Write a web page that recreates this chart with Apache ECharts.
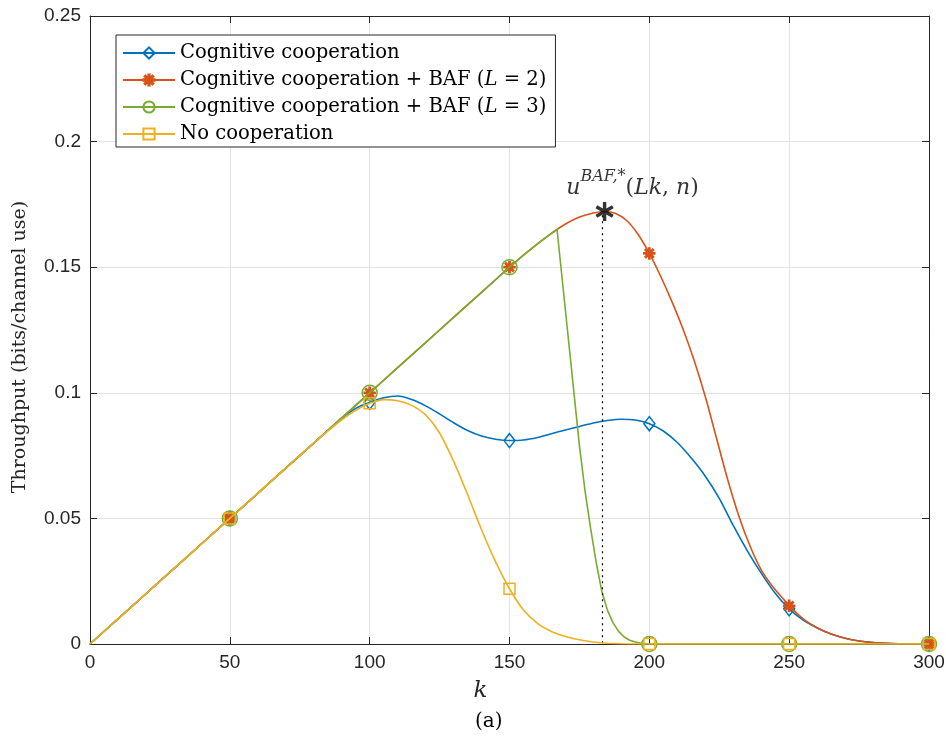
<!DOCTYPE html>
<html><head><meta charset="utf-8">
<script src="https://cdn.jsdelivr.net/npm/echarts@6/dist/echarts.min.js"></script>
<style>html,body{margin:0;padding:0;background:#fff}#c{width:946px;height:738px}</style>
</head><body><div id="c"></div>
<script>
// ---------- data ----------
const seriesNames = [
  'Cognitive cooperation',
  'Cognitive cooperation + BAF (L = 2)',
  'Cognitive cooperation + BAF (L = 3)',
  'No cooperation'
];
const xTicks = [0, 50, 100, 150, 200, 250, 300];
const yTicks = [0, 0.05, 0.1, 0.15, 0.2, 0.25];
const markerK = [50, 100, 150, 200, 250, 300];

const blueK = [0,10,20,30,40,50,60,70,80,90,95,100,105,110,115,120,125,130,135,140,145,150,155,160,165,170,175,180,185,190,195,200,205,210,215,220,225,230,235,240,245,250,255,260,265,270,275,280,285,290,300];
const blueY = [0,0.01,0.02,0.03,0.04,0.05,0.06,0.07,0.08,0.0898,0.0938,0.0962,0.0980,0.0987,0.0973,0.0948,0.0916,0.0881,0.0850,0.0828,0.0815,0.0810,0.0812,0.0822,0.0837,0.0852,0.0866,0.0880,0.0890,0.0895,0.0892,0.0877,0.0848,0.0802,0.0740,0.0668,0.0580,0.0472,0.0372,0.0282,0.0202,0.0140,0.0095,0.0064,0.0040,0.0023,0.0012,0.0006,0.0003,0.0001,0];

const orangeK = [0,10,20,30,40,50,60,70,80,90,100,110,120,130,140,150,155,160,165,170,175,180,184,188,192,196,200,204,208,212,216,220,224,228,232,236,240,244,248,250,255,260,265,270,275,280,285,290,300];
const orangeY = [0,0.01,0.02,0.03,0.04,0.05,0.06,0.07,0.08,0.09,0.10,0.11,0.12,0.13,0.14,0.15,0.1548,0.1593,0.1635,0.1672,0.1700,0.1716,0.1722,0.1714,0.1685,0.1630,0.1555,0.1465,0.1365,0.1255,0.1130,0.0985,0.0820,0.0655,0.0510,0.0390,0.0295,0.0230,0.0178,0.0152,0.0100,0.0065,0.0040,0.0023,0.0012,0.0006,0.0003,0.0001,0];

const greenK = [0,10,20,30,40,50,60,70,80,90,100,110,120,130,140,150,155,160,165,167,169,171,173,175,177,179,181,183,185,187,189,191,193,195,197,200,250,300];
const greenY = [0,0.01,0.02,0.03,0.04,0.05,0.06,0.07,0.08,0.09,0.10,0.11,0.12,0.13,0.14,0.15,0.1548,0.1593,0.1635,0.1650,0.1435,0.1220,0.1005,0.0790,0.0610,0.0460,0.0325,0.0210,0.0135,0.0085,0.0050,0.0028,0.0015,0.0008,0.0003,0,0,0];

const yellowK = [0,10,20,30,40,50,60,70,80,90,95,100,105,110,115,120,125,130,135,140,145,150,155,160,165,170,175,180,185,190,200,250,300];
const yellowY = [0,0.01,0.02,0.03,0.04,0.05,0.06,0.07,0.08,0.0892,0.0930,0.0958,0.0973,0.0968,0.0950,0.0912,0.0840,0.0728,0.0595,0.0455,0.0328,0.0220,0.0135,0.0082,0.0050,0.0030,0.0017,0.0008,0.0003,0.0001,0,0,0];

const peakK = 184, peakY = 0.1722;   // optimum marker
const peakLineK = 183;               // dotted guide

// ---------- styling ----------
const colors = ['#0072BD', '#D95319', '#77AC30', '#EDB120'];
const asterisk8 = 'path://M-10,-1.2 L10,-1.2 L10,1.2 L-10,1.2 Z M-1.2,-10 L1.2,-10 L1.2,10 L-1.2,10 Z M-7.92,-6.22 L-6.22,-7.92 L7.92,6.22 L6.22,7.92 Z M-6.22,7.92 L-7.92,6.22 L6.22,-7.92 L7.92,-6.22 Z';
const asterisk6 = 'path://M-1.8,-10 L1.8,-10 L1.8,10 L-1.8,10 Z M-9.56,-3.44 L-7.76,-6.56 L9.56,3.44 L7.76,6.56 Z M-7.76,6.56 L-9.56,3.44 L7.76,-6.56 L9.56,-3.44 Z';
const symbols = [
  {symbol: 'diamond', size: [11, 14], fill: 'rgba(0,0,0,0)'},
  {symbol: asterisk8, size: 11, fill: colors[1]},
  {symbol: 'circle', size: 15, fill: 'rgba(0,0,0,0)'},
  {symbol: 'rect', size: 11, fill: 'rgba(0,0,0,0)'}
];
const smoothness = [0.3, 0.3, false, 0.3];
const serif = '"DejaVu Serif", "Liberation Serif", serif';
const sans = '"Liberation Sans", Arial, sans-serif';

function build(ks, ys) {
  return ks.map((k, i) => markerK.includes(k) ? [k, ys[i]] : {value: [k, ys[i]], symbol: 'none'});
}
const allK = [blueK, orangeK, greenK, yellowK];
const allY = [blueY, orangeY, greenY, yellowY];

const lineSeries = seriesNames.map((name, i) => ({
  name: name,
  type: 'line',
  data: build(allK[i], allY[i]),
  symbol: symbols[i].symbol,
  symbolSize: symbols[i].size,
  symbolKeepAspect: true,
  showAllSymbol: true,
  smooth: smoothness[i],
  z: 2 + i,
  lineStyle: {color: colors[i], width: 1.6},
  itemStyle: {color: symbols[i].fill, borderColor: colors[i], borderWidth: 1.5},
  emphasis: {disabled: true},
  animation: false
}));

// dotted guide line on the L=2 series
lineSeries[1].markLine = {
  silent: true, symbol: ['none', 'none'], animation: false,
  label: {show: false},
  lineStyle: {type: [2, 4], color: '#000', width: 1.2},
  data: [[{coord: [peakLineK, peakY - 0.0015]}, {coord: [peakLineK, 0]}]]
};

const option = {
  backgroundColor: '#fff',
  animation: false,
  color: colors,
  grid: {left: 90, right: 17, top: 16, bottom: 94, outerBoundsMode: 'none', containLabel: false},
  legend: {
    data: seriesNames,
    orient: 'vertical',
    left: 116, top: 35,
    padding: [8, 9, 3, 6],
    itemWidth: 52, itemHeight: 14, itemGap: 7,
    backgroundColor: '#fff',
    borderColor: '#262626', borderWidth: 1,
    textStyle: {fontFamily: serif, fontSize: 19.6, lineHeight: 20, color: '#000',
      rich: {i: {fontFamily: serif, fontSize: 19.6, lineHeight: 20, fontStyle: 'italic', color: '#000'}}},
    formatter: function (n) {
      return n.replace(/\(L = (\d)\)/, '({i|L} = $1)');
    },
    selectedMode: false
  },
  xAxis: [{
    type: 'value', min: 0, max: 300, interval: 50,
    name: 'k', nameLocation: 'middle', nameGap: 36,
    nameTextStyle: {fontFamily: serif, fontStyle: 'italic', fontSize: 23, color: '#262626', padding: [0, 58, 0, 0]},
    axisLine: {show: true, lineStyle: {color: '#262626', width: 1}},
    axisTick: {show: true, inside: true, length: 7, lineStyle: {color: '#262626'}},
    axisLabel: {fontFamily: sans, fontSize: 19, color: '#262626', margin: 9,
      formatter: v => xTicks.includes(v) ? String(v) : ''},
    splitLine: {show: true, lineStyle: {color: '#e3e3e3', width: 1}}
  }, {
    type: 'value', min: 0, max: 300, interval: 50, position: 'top',
    axisLine: {show: true, onZero: false, lineStyle: {color: '#262626', width: 1}},
    axisTick: {show: true, inside: true, length: 7, lineStyle: {color: '#262626'}},
    axisLabel: {show: false}, splitLine: {show: false}
  }],
  yAxis: [{
    type: 'value', min: 0, max: 0.25, interval: 0.05,
    name: 'Throughput (bits/channel use)', nameLocation: 'middle', nameGap: 60,
    nameTextStyle: {fontFamily: serif, fontSize: 19, color: '#262626', padding: [0, 34, 0, 0]},
    axisLine: {show: true, lineStyle: {color: '#262626', width: 1}},
    axisTick: {show: true, inside: true, length: 7, lineStyle: {color: '#262626'}},
    axisLabel: {fontFamily: sans, fontSize: 19, color: '#262626', margin: 9,
      formatter: v => { const t = yTicks.find(y => Math.abs(y - v) < 1e-9); return t === undefined ? '' : String(t); }},
    splitLine: {show: true, lineStyle: {color: '#e3e3e3', width: 1}}
  }, {
    type: 'value', min: 0, max: 0.25, interval: 0.05, position: 'right',
    axisLine: {show: true, onZero: false, lineStyle: {color: '#262626', width: 1}},
    axisTick: {show: true, inside: true, length: 7, lineStyle: {color: '#262626'}},
    axisLabel: {show: false}, splitLine: {show: false}
  }],
  title: {
    text: '(a)', left: 470, top: 707,
    textStyle: {fontFamily: serif, fontSize: 20, fontWeight: 'normal', color: '#000'}
  },
  series: lineSeries.concat([{
    name: 'optimum',
    type: 'scatter',
    data: [[peakK, peakY]],
    symbol: asterisk6, symbolSize: 19, symbolKeepAspect: true,
    itemStyle: {color: '#000'},
    z: 20,
    silent: true,
    label: {
      show: true, position: 'top', offset: [28, 2],
      formatter: '{i|u}{s|BAF,*}{n|(}{i|Lk}{n|, }{i|n}{n|)}',
      rich: {
        i: {fontFamily: serif, fontStyle: 'italic', fontSize: 22, color: '#000', lineHeight: 30, verticalAlign: 'bottom'},
        n: {fontFamily: serif, fontSize: 22, color: '#000', lineHeight: 30, verticalAlign: 'bottom'},
        s: {fontFamily: serif, fontStyle: 'italic', fontSize: 16, color: '#000', lineHeight: 24, verticalAlign: 'top'}
      }
    }
  }])
};

const chart = echarts.init(document.getElementById('c'), null, {renderer: 'canvas'});
chart.setOption(option);
</script>
</body></html>
